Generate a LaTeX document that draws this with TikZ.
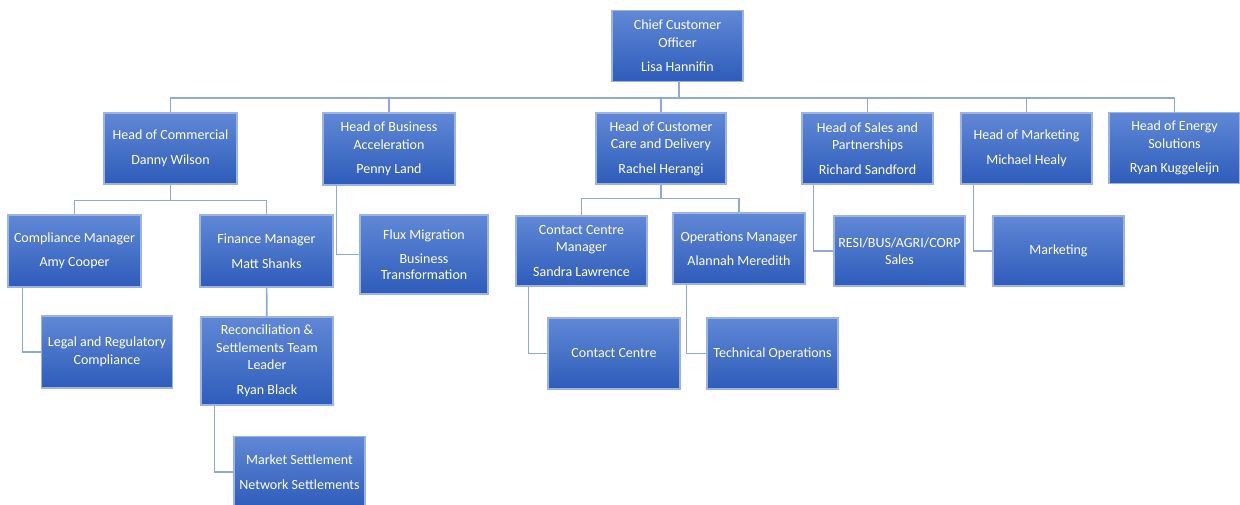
\documentclass[tikz,border=0pt]{standalone}
\usepackage{fontspec}
\setmainfont{Carlito}
\definecolor{boxtop}{HTML}{6088D6}
\definecolor{boxbot}{HTML}{2E5CBA}
\definecolor{boxline}{HTML}{9DB4E2}
\definecolor{connline}{HTML}{8EA8DA}
\tikzset{
  box/.style={draw=boxline, line width=1.1pt, top color=boxtop, bottom color=boxbot,
    text=white, align=center, inner sep=2pt, minimum width=131pt, minimum height=71pt,
    font=\fontsize{14}{17.5}\selectfont},
  conn/.style={draw=connline, line width=1.6pt},
}
\begin{document}
\begin{tikzpicture}[x=1pt,y=-1pt]
\useasboundingbox (0,0) rectangle (1240,504);
\clip (0,0) rectangle (1240,504);

% top
\node[box] (cco) at (677.5,46) {Chief Customer\\Officer\\[7pt]Lisa Hannifin};

% heads
\node[box, minimum width=133pt] (comm) at (170.5,148.5) {Head of Commercial\\[7pt]Danny Wilson};
\node[box, minimum width=132pt, minimum height=72pt] (accel) at (389,149) {Head of Business\\Acceleration\\[7pt]Penny Land};
\node[box, minimum width=130pt] (care) at (661,148.5) {Head of Customer\\Care and Delivery\\[7pt]Rachel Herangi};
\node[box] (sales) at (867.5,148.5) {Head of Sales and\\Partnerships\\[7pt]Richard Sandford};
\node[box] (mkt) at (1026.5,148.5) {Head of Marketing\\[7pt]Michael Healy};
\node[box] (energy) at (1174.5,148) {Head of Energy\\Solutions\\[7pt]Ryan Kuggeleijn};

% under commercial
\node[box, minimum width=133pt, minimum height=72pt] (comp) at (74.5,251) {Compliance Manager\\[7pt]Amy Cooper};
\node[box, minimum width=133pt, minimum height=72pt] (fin) at (266.5,251) {Finance Manager\\[7pt]Matt Shanks};
\node[box, minimum height=72pt] (legal) at (107,352) {Legal and Regulatory\\Compliance};
\node[box, minimum width=132pt, minimum height=88pt] (rec) at (267,361) {Reconciliation \&\\Settlements Team\\Leader\\[7pt]Ryan Black};
\node[box] (market) at (299.5,472) {Market Settlement\\[7pt]Network Settlements};

% under business acceleration
\node[box, minimum width=128pt, minimum height=79pt] (flux) at (424,254.5) {Flux Migration\\[7pt]Business\\[-2pt]Transformation};

% under customer care
\node[box, minimum height=70pt] (ccm) at (581.5,251) {Contact Centre\\Manager\\[7pt]Sandra Lawrence};
\node[box, minimum width=132pt] (ops) at (739,248.5) {Operations Manager\\[7pt]Alannah Meredith};
\node[box, minimum width=132pt] (cc) at (614,353.5) {Contact Centre};
\node[box] (tech) at (772.5,353.5) {Technical Operations};

% under sales and marketing
\node[box, minimum height=70pt] (resi) at (899.5,251) {RESI/BUS/AGRI/CORP\\Sales};
\node[box, minimum height=70pt] (mktg) at (1058.5,251) {Marketing};

% connectors
\foreach \n in {comm,accel,care,sales,mkt,energy}
  \draw[conn] ([xshift=1.5pt]cco.south) -- ++(0,16) -| (\n.north);
\foreach \n in {comp,fin}
  \draw[conn] (comm.south) -- ++(0,16) -| (\n.north);
\foreach \n in {ccm,ops}
  \draw[conn] (care.south) -- ++(0,14) -| (\n.north);
\draw[conn] (fin) -- (rec);
\draw[conn] ([xshift=15pt]comp.south west) |- (legal.west);
\draw[conn] ([xshift=14pt]rec.south west) |- (market.west);
\draw[conn] ([xshift=14pt]accel.south west) |- (flux.west);
\draw[conn] ([xshift=13pt]ccm.south west) |- (cc.west);
\draw[conn] ([xshift=14pt]ops.south west) |- (tech.west);
\draw[conn] ([xshift=12pt]sales.south west) |- (resi.west);
\draw[conn] ([xshift=13pt]mkt.south west) |- (mktg.west);
\end{tikzpicture}
\end{document}
